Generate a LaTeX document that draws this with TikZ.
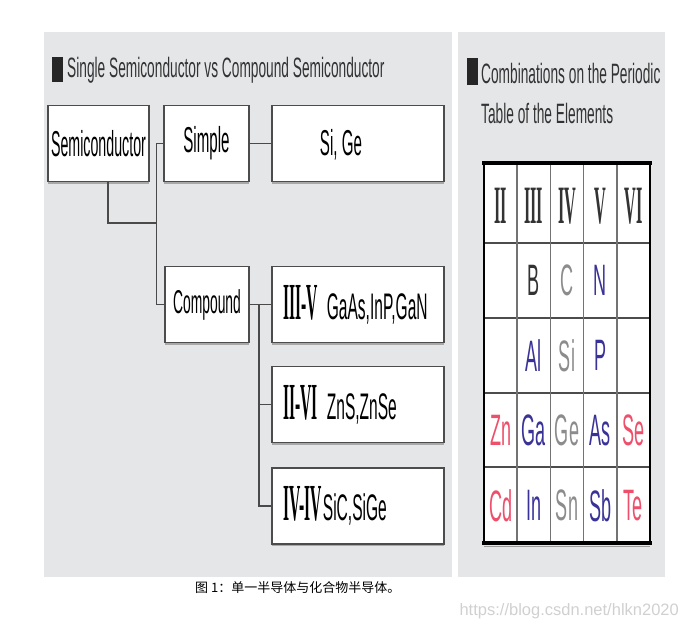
\documentclass[tikz,border=0pt]{standalone}
\usepackage{fontspec}
\setmainfont{Liberation Sans}
\newfontfamily\titlefont[FakeStretch=0.49]{Liberation Sans}
\newfontfamily\boxfont[FakeStretch=0.42]{Liberation Sans}
\newfontfamily\elemfont[FakeStretch=0.41]{Liberation Sans}
\newfontfamily\romanfont[FakeStretch=0.30]{Liberation Serif}
\newfontfamily\cjk{Noto Sans CJK SC}
\usetikzlibrary{positioning,shadows}
\definecolor{panelGray}{HTML}{E5E6E8}
\definecolor{lineGray}{HTML}{4A4A4A}
\definecolor{elemRed}{HTML}{EE4F6B}
\definecolor{elemBlue}{HTML}{3A3397}
\definecolor{elemGray}{HTML}{8C8C8C}
\definecolor{markGray}{HTML}{D0D0D0}

\tikzset{
  box/.style={draw=black!70, line width=1.2pt, fill=white, inner sep=0pt,
    minimum height=76pt,
    drop shadow={shadow xshift=0pt, shadow yshift=-2pt, fill=black!50, opacity=0.6}},
  boxtext/.style={inner sep=0pt, font=\boxfont\fontsize{36}{36}\selectfont},
  grouptext/.style={inner sep=0pt, anchor=west, font=\boxfont\fontsize{37}{37}\selectfont},
  titletext/.style={inner sep=0pt, anchor=west, text=black!80, font=\titlefont\fontsize{28}{28}\selectfont},
  numeral/.style={inner sep=0pt, font=\romanfont\bfseries\fontsize{54}{54}\selectfont},
  elem/.style={inner sep=0pt, font=\elemfont\fontsize{44}{44}\selectfont},
  link/.style={draw=lineGray, line width=1.5pt},
}
\newcommand{\grp}[2]{{\romanfont\bfseries\fontsize{52}{52}\selectfont #1}\hspace{9pt}#2}

\begin{document}
\begin{tikzpicture}[x=1pt, y=-1pt]
  \useasboundingbox (0,0) rectangle (682,629);
  % panels
  \fill[panelGray] (44,32) rectangle (452,577);
  \fill[panelGray] (458,32) rectangle (665,577);

  % left title
  \fill[black!85] (52,57) rectangle (63,82);
  \node[titletext] (ltitle) at (67,70) {Single Semiconductor vs Compound Semiconductor};

  % tree boxes
  \node[box, minimum width=101pt] (semi) at (98.5,143.5)
    {\boxfont\fontsize{36}{36}\selectfont\scalebox{0.94}[1]{Semiconductor}};
  \node[box, minimum width=85pt] (simple) at (206.5,143.5)
    {\boxfont\fontsize{36}{36}\selectfont Simple};
  \node[box, minimum width=172pt] (sige) at (358,143.5) {};
  \node[boxtext] (sigeT) at (341,145) {Si, Ge};
  \node[box, minimum width=84pt] (compound) at (207,304.5)
    {\boxfont\fontsize{33}{33}\selectfont Compound};
  \node[box, minimum width=172pt] (g35) at (358,304.5) {};
  \node[grouptext] (g35T) at (283,304.5) {\grp{III-V}{GaAs,InP,GaN}};
  \node[box, minimum width=172pt] (g26) at (358,404.5) {};
  \node[grouptext] (g26T) at (283,404.5) {\grp{II-VI}{ZnS,ZnSe}};
  \node[box, minimum width=172pt] (g44) at (358,506) {};
  \node[grouptext] (g44T) at (283,506) {\grp{IV-IV}{\hspace{-8pt}SiC,SiGe}};

  % connectors
  \coordinate (j1) at (157,223);
  \coordinate (j2) at (259,304.5);
  \draw[link] ([xshift=9.5pt]semi.south) |- (j1);
  \draw[link] (simple.west) -- ++(-7,0) |- (compound.west);
  \draw[link] (simple.east) -- (sige.west);
  \draw[link] (compound.east) -- (g35.west);
  \draw[link] (j2) |- (g26.west);
  \draw[link] (j2) |- (g44.west);

  % right title
  \fill[black!85] (467,58) rectangle (478,85);
  \node[titletext] (rtitle1) at (481,73) {Combinations on the Periodic};
  \node[titletext] (rtitle2) at (481,113) {Table of the Elements};

  % periodic table
  \fill[white] (484,163) rectangle (650,543);
  \foreach \y in {243,318,393,467}
    \draw[black!70, line width=2.5pt] (484,\y) -- (650,\y);
  \foreach \x in {517.2,550.4,583.6,616.8}
    \draw[black!55, line width=1.5pt] (\x,163) -- (\x,543);
  \draw[black, line width=2pt] (484,163) -- (484,543);
  \draw[black, line width=2pt] (650,163) -- (650,543);
  \draw[black, line width=3.5pt] (482,163) -- (652,163);
  \draw[black!40, line width=1.5pt] (484,546.5) -- (650,546.5);
  \draw[black, line width=3.5pt] (482,543) -- (652,543);

  \foreach \lab [count=\i] in {II,III,IV,V,VI}
    \node[numeral, text=black!80] (h\i) at ({484+33.2*(\i-0.5)},206) {\lab};

  \foreach \sym/\col/\c/\r in {B/black!80/2/1, C/elemGray/3/1, N/elemBlue/4/1,
      Al/elemBlue/2/2, Si/elemGray/3/2, P/elemBlue/4/2,
      Zn/elemRed/1/3, Ga/elemBlue/2/3, Ge/elemGray/3/3, As/elemBlue/4/3, Se/elemRed/5/3,
      Cd/elemRed/1/4, In/elemBlue/2/4, Sn/elemGray/3/4, Sb/elemBlue/4/4, Te/elemRed/5/4}
    \node[elem, text=\col] (e\r\c) at ({484+33.2*(\c-0.5)},{280.5+75*(\r-1)}) {\sym};

  % caption and mark
  \node[inner sep=0pt, anchor=west, font=\cjk\fontsize{13}{13}\selectfont] (caption)
    at (195,588) {图 1：单一半导体与化合物半导体。};
  \node[inner sep=0pt, anchor=east, text=markGray, font=\fontsize{16.5}{16.5}\selectfont] (mark)
    at (679,611) {https://blog.csdn.net/hlkn2020};
\end{tikzpicture}
\end{document}
